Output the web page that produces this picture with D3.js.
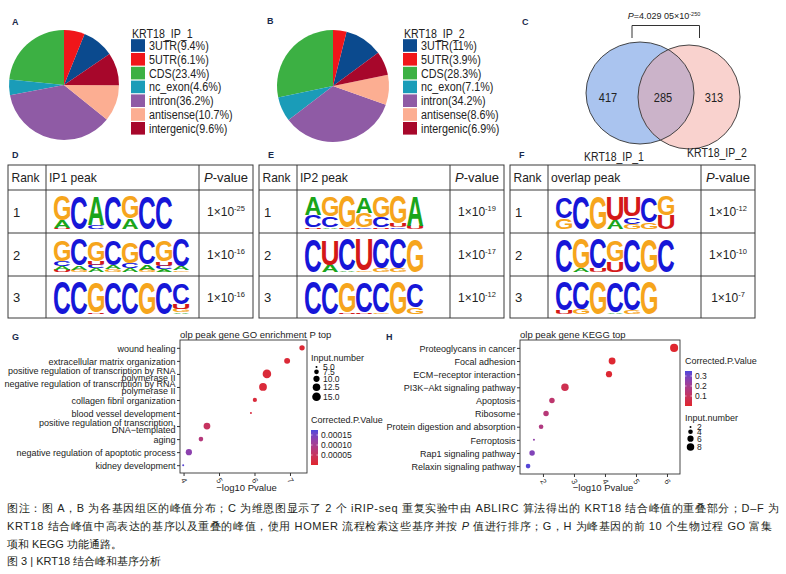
<!DOCTYPE html>
<html>
<head>
<meta charset="utf-8">
<script src="https://cdn.jsdelivr.net/npm/d3@7"></script>
<style>
  body { margin: 0; background: #fff; }
  text { font-family: "Liberation Sans", Arial, sans-serif; }
</style>
</head>
<body>
<div id="chart"></div>
<script>
// ---- data ----
const pieCategories = ["3UTR", "5UTR", "CDS", "nc_exon", "intron", "antisense", "intergenic"]
const pieColors = ["#0b4a8e", "#f0161a", "#3cb043", "#1a9cb8", "#8f5ba5", "#fcae92", "#a7072b"]
// clockwise order of the slices, starting at 12 o'clock
const pieOrder = ["5UTR", "3UTR", "intergenic", "antisense", "intron", "nc_exon", "CDS"]
const ip1Percent = [9.4, 6.1, 23.4, 4.6, 36.2, 10.7, 9.6]
const ip2Percent = [11, 3.9, 28.3, 7.1, 34.2, 8.6, 6.9]
const pieTitles = ["KRT18_IP_1", "KRT18_IP_2"]

const vennSets = ["KRT18_IP_1", "KRT18_IP_2"]
const vennCounts = [417, 285, 313]
const vennP = "4.029 05"
const vennPExp = "-250"

const motifHeaders = ["IP1 peak", "IP2 peak", "overlap peak"]
const motifRanks = [1, 2, 3]
// each column: letters with their height (% of logo height)
const ip1Motifs = [
  "G70A22U4|C95|A80C12|C95|G62A30|C95|C95",
  "G60C15A10U6|C75A12G6|G55U12A10C10|C72A10G8|G60C15A10|C70A15G6|G60U12C10A8|C78A10G5",
  "C95|C95|G90U5|C93|C93|G93|C93|C62U15G10A5"
]
const ip2Motifs = [
  "A50C35U5|G55C30A5|G90U5|A45G40C5|G58C28U5|G78U10C5|A85U10",
  "C95|U70A20|C90A5|U90G5|C85G10|C85G10|G95",
  "C95|C93|G90U5|C90U5|C90G5|G95|C70G20"
]
const olpMotifs = [
  "C60G30|C95|G95|U65A25|U55C20G15|C70G20|G55U40",
  "C95|G85A10|C85U10|G60U30|C95|G95|C95",
  "C85U10|C80G15|G95|C90A5|C85G10|G95"
]
const ip1PExp = [-25, -16, -16]
const ip2PExp = [-19, -17, -12]
const olpPExp = [-12, -10, -7]

const goTitle = "olp peak gene GO enrichment P top"
const goTerms = [
  "wound healing",
  "extracellular matrix organization",
  "positive regulation of transcription by RNA\npolymerase II",
  "negative regulation of transcription by RNA\npolymerase II",
  "collagen fibril organization",
  "blood vessel development",
  "positive regulation of transcription,\nDNA\u2212templated",
  "aging",
  "negative regulation of apoptotic process",
  "kidney development"
]
const goLogP = [7.34, 6.92, 6.35, 6.24, 6.01, 5.9, 4.66, 4.49, 4.15, 3.99]
const goCount = [8.5, 9.5, 15, 13, 7, 5, 11, 7.5, 10, 5]
const goPadj = [0.000008, 0.000010, 0.000012, 0.000013, 0.000015, 0.000018, 0.00005, 0.00008, 0.00013, 0.000168]
const goXTicks = [4, 5, 6, 7]
const goSizeBreaks = [5, 7.5, 10, 12.5, 15]
const goColorBreaks = [0.00005, 0.00010, 0.00015]

const keggTitle = "olp peak gene KEGG top"
const keggTerms = [
  "Proteoglycans in cancer",
  "Focal adhesion",
  "ECM\u2212receptor interaction",
  "PI3K\u2212Akt signaling pathway",
  "Apoptosis",
  "Ribosome",
  "Protein digestion and absorption",
  "Ferroptosis",
  "Rap1 signaling pathway",
  "Relaxin signaling pathway"
]
const keggLogP = [6.23, 4.23, 4.13, 2.71, 2.29, 2.1, 1.94, 1.71, 1.65, 1.52]
const keggCount = [9, 7, 6, 8, 5, 5, 4, 2, 5, 4]
const keggPadj = [0.005, 0.01, 0.012, 0.07, 0.13, 0.15, 0.17, 0.25, 0.28, 0.34]
const keggXTicks = [2, 3, 4, 5, 6]
const keggSizeBreaks = [2, 4, 6, 8]
const keggColorBreaks = [0.1, 0.2, 0.3]

// *...* marks italic text
const captionLines = [
  "图注：图 A，B 为各基因组区的峰值分布；C 为维恩图显示了 2 个 iRIP-seq 重复实验中由 ABLIRC 算法得出的 KRT18 结合峰值的重叠部分；D–F 为",
  "KRT18 结合峰值中高表达的基序以及重叠的峰值，使用 HOMER 流程检索这些基序并按 *P* 值进行排序；G，H 为峰基因的前 10 个生物过程 GO 富集",
  "项和 KEGG 功能通路。",
  "图 3 | KRT18 结合峰和基序分析"
]

// ---- svg ----
const svg = d3.select("#chart")
  .append("svg")
  .attr("width", 786)
  .attr("height", 574)

svg.append("rect").attr("width", 786).attr("height", 574).attr("fill", "#fff")

const ink = "#222"

// narrow a text the way the source figure is squeezed horizontally
function squeeze(t, k) {
  let w = t.node().getComputedTextLength()
  t.attr("textLength", w * k).attr("lengthAdjust", "spacingAndGlyphs")
  return t
}

function panelLabel(t, x, y) {
  svg.append("text")
    .attr("x", x).attr("y", y)
    .attr("font-size", 9).attr("font-weight", "bold")
    .attr("fill", "#1a2a4c")
    .text(t)
}

// ---- pies (A, B) ----
function drawPie(values, title, cx, cy, r, lx) {
  let rows = pieCategories.map((c, i) => ({ cat: c, v: values[i], color: pieColors[i] }))
  let pie = d3.pie()
    .value(d => d.v)
    .sort((a, b) => pieOrder.indexOf(a.cat) - pieOrder.indexOf(b.cat))
  let arc = d3.arc().innerRadius(0).outerRadius(r)

  svg.append("g")
    .attr("transform", `translate(${cx},${cy})`)
    .selectAll("path")
    .data(pie(rows))
    .enter()
    .append("path")
    .attr("d", arc)
    .attr("fill", d => d.data.color)

  // legend
  squeeze(svg.append("text")
    .attr("x", lx + 1).attr("y", 38)
    .attr("font-size", 12.5).attr("fill", ink)
    .text(title), 0.85)
  let lg = svg.append("g")
  rows.forEach((d, i) => {
    let yc = 45.5 + i * 13.8
    lg.append("rect")
      .attr("x", lx).attr("y", yc - 6.3)
      .attr("width", 14).attr("height", 12.6)
      .attr("fill", d.color)
    squeeze(lg.append("text")
      .attr("x", lx + 18).attr("y", yc + 4.5)
      .attr("font-size", 12.5).attr("fill", ink)
      .text(`${d.cat}(${d.v}%)`), 0.86)
  })
}

panelLabel("A", 12, 25)
drawPie(ip1Percent, pieTitles[0], 64, 85, 55, 131)
panelLabel("B", 267, 24)
drawPie(ip2Percent, pieTitles[1], 333, 86, 56, 403)

// ---- venn (C) ----
panelLabel("C", 522, 25)
let blue = { cx: 640, cy: 93, rx: 54, ry: 51 }
let pink = { cx: 689, cy: 97, rx: 51, ry: 52 }

svg.append("defs").append("clipPath").attr("id", "clipBlue")
  .append("ellipse")
  .attr("cx", blue.cx).attr("cy", blue.cy).attr("rx", blue.rx).attr("ry", blue.ry)

svg.append("ellipse")
  .attr("cx", blue.cx).attr("cy", blue.cy).attr("rx", blue.rx).attr("ry", blue.ry)
  .attr("fill", "#aac4ef")
svg.append("ellipse")
  .attr("cx", pink.cx).attr("cy", pink.cy).attr("rx", pink.rx).attr("ry", pink.ry)
  .attr("fill", "#f9d2ce")
svg.append("ellipse")
  .attr("cx", pink.cx).attr("cy", pink.cy).attr("rx", pink.rx).attr("ry", pink.ry)
  .attr("fill", "#cbb3c9")
  .attr("clip-path", "url(#clipBlue)")
;[blue, pink].forEach(e => {
  svg.append("ellipse")
    .attr("cx", e.cx).attr("cy", e.cy).attr("rx", e.rx).attr("ry", e.ry)
    .attr("fill", "none").attr("stroke", "#333").attr("stroke-width", 0.9)
})

let vennX = [608, 663, 714]
vennCounts.forEach((n, i) => {
  squeeze(svg.append("text")
    .attr("x", vennX[i]).attr("y", 101.5)
    .attr("text-anchor", "middle")
    .attr("font-size", 12.5).attr("fill", ink)
    .text(n), 0.88)
})
squeeze(svg.append("text").attr("x", 614).attr("y", 161)
  .attr("text-anchor", "middle").attr("font-size", 12.5).attr("fill", ink)
  .text(vennSets[0]), 0.84)
squeeze(svg.append("text").attr("x", 717).attr("y", 157)
  .attr("text-anchor", "middle").attr("font-size", 12.5).attr("fill", ink)
  .text(vennSets[1]), 0.84)

// bracket with p value
svg.append("path")
  .attr("d", "M632,38V25.5H699.5V38")
  .attr("fill", "none").attr("stroke", "#333").attr("stroke-width", 1)
let pt = svg.append("text")
  .attr("x", 664).attr("y", 19)
  .attr("text-anchor", "middle")
  .attr("font-size", 9).attr("fill", ink)
pt.append("tspan").attr("font-style", "italic").text("P")
pt.append("tspan").text("=" + vennP + "×10")
pt.append("tspan").attr("dy", -3.5).attr("font-size", 5.5).text(vennPExp)

// ---- motif tables (D, E, F) ----
const letterColor = { A: "#1aa51a", C: "#1616d8", G: "#f6a51c", U: "#d41818" }
const logoFont = "bold 100px 'Liberation Sans'"
const ctx = document.createElement("canvas").getContext("2d")
ctx.font = logoFont
const glyphCache = {}
function glyphBox(ch) {
  if (!glyphCache[ch]) {
    let m = ctx.measureText(ch)
    glyphCache[ch] = { l: m.actualBoundingBoxLeft, r: m.actualBoundingBoxRight, a: m.actualBoundingBoxAscent, d: m.actualBoundingBoxDescent }
  }
  return glyphCache[ch]
}

function drawLogo(g, motif, x0, yTop, colW, h) {
  motif.split("|").forEach((col, i) => {
    let stack = [...col.matchAll(/([ACGU])(\d+)/g)].map(m => ({ ch: m[1], v: +m[2] / 100 }))
    stack.sort((a, b) => a.v - b.v)
    let y = yTop + h
    stack.forEach(s => {
      let hh = s.v * h
      let b = glyphBox(s.ch)
      let sx = (colW - 0.8) / (b.l + b.r)
      let sy = hh / (b.a + b.d)
      g.append("text")
        .text(s.ch)
        .attr("font-family", "'Liberation Sans', Arial, sans-serif")
        .attr("font-size", 100)
        .attr("font-weight", "bold")
        .attr("fill", letterColor[s.ch])
        .attr("transform", `translate(${x0 + i * colW},${y - hh}) scale(${sx},${sy}) translate(${b.l},${b.a})`)
      y -= hh
    })
  })
}

const colOff = [0, 38, 191, 245]
const rowY = [165, 190, 233, 276, 318]

function drawTable(x0, header, motifs, exps) {
  let g = svg.append("g")
  let x1 = x0 + colOff[3]
  g.append("rect")
    .attr("x", x0).attr("y", rowY[0])
    .attr("width", colOff[3]).attr("height", rowY[4] - rowY[0])
    .attr("fill", "none").attr("stroke", "#3a3a3a").attr("stroke-width", 1)
  rowY.slice(1, 4).forEach(y => {
    g.append("line").attr("x1", x0).attr("x2", x1).attr("y1", y).attr("y2", y)
      .attr("stroke", "#3a3a3a").attr("stroke-width", 1)
  })
  colOff.slice(1, 3).forEach(c => {
    g.append("line").attr("x1", x0 + c).attr("x2", x0 + c).attr("y1", rowY[0]).attr("y2", rowY[4])
      .attr("stroke", "#3a3a3a").attr("stroke-width", 1)
  })
  let hy = (rowY[0] + rowY[1]) / 2 + 4.5
  squeeze(g.append("text").attr("x", x0 + 3.5).attr("y", hy).attr("font-size", 13).attr("fill", ink).text("Rank"), 0.92)
  squeeze(g.append("text").attr("x", x0 + colOff[1] + 3).attr("y", hy).attr("font-size", 13).attr("fill", ink).text(header), 0.93)
  let ph = g.append("text").attr("x", x0 + (colOff[2] + colOff[3]) / 2).attr("y", hy)
    .attr("text-anchor", "middle").attr("font-size", 13).attr("fill", ink)
  ph.append("tspan").attr("font-style", "italic").text("P")
  ph.append("tspan").text("-value")

  motifRanks.forEach((rk, i) => {
    let top = rowY[i + 1], bot = rowY[i + 2]
    let mid = (top + bot) / 2
    g.append("text").attr("x", x0 + 5).attr("y", mid + 5).attr("font-size", 13).attr("fill", ink).text(rk)
    drawLogo(g, motifs[i], x0 + colOff[1] + 8, top + 4, 17, bot - top - 8)
    let t = g.append("text").attr("x", x0 + (colOff[2] + colOff[3]) / 2).attr("y", mid + 4.5)
      .attr("text-anchor", "middle").attr("font-size", 12).attr("fill", ink)
    t.append("tspan").text("1×10")
    t.append("tspan").attr("dy", -5).attr("font-size", 7.5).text(exps[i])
  })
}

panelLabel("D", 12, 158)
drawTable(8, motifHeaders[0], ip1Motifs, ip1PExp)
panelLabel("E", 268, 158)
drawTable(259, motifHeaders[1], ip2Motifs, ip2PExp)
panelLabel("F", 519, 158)
drawTable(510, motifHeaders[2], olpMotifs, olpPExp)

// ---- dot plots (G, H) ----
const colorLow = "#e0262c", colorHigh = "#4a48dc"

function drawDotPlot(o) {
  let x = d3.scaleLinear().domain(o.xDomain).range([o.left, o.right])
  let y = d3.scalePoint().domain(o.terms).range([o.top, o.bottom]).padding(0.6)
  let area = d3.scaleLinear().domain(o.sizeDomain).range(o.areaRange)
  let rad = v => Math.sqrt(area(v))
  let colorT = d3.scaleLinear().domain(o.pDomain).range([0, 1])
  let color = v => d3.interpolateLab(colorLow, colorHigh)(colorT(v))

  svg.append("text")
    .attr("x", o.left).attr("y", 337.5)
    .attr("font-size", 9.5).attr("fill", ink)
    .text(o.title)

  // y axis
  let gy = svg.append("g")
    .attr("transform", `translate(${o.left},0)`)
    .call(d3.axisLeft(y).tickSize(3).tickSizeOuter(0))
  gy.select(".domain").remove()
  gy.selectAll("line").attr("stroke", "#333")
  gy.selectAll("text").each(function (d) {
    let lines = d.split("\n")
    let t = d3.select(this).text(null)
      .attr("font-size", 9).attr("fill", ink)
      .attr("font-family", "'Liberation Sans', Arial, sans-serif")
      .attr("x", -4.5).attr("dy", null)
    let lh = 7.2
    let y0 = -(lines.length - 1) * lh / 2 + 3.2
    lines.forEach((ln, k) => {
      t.append("tspan").attr("x", -4.5).attr("y", y0 + k * lh).text(ln)
    })
  })

  // x axis
  let gx = svg.append("g")
    .attr("transform", `translate(0,${o.boxBottom})`)
    .call(d3.axisBottom(x).tickValues(o.xTicks).tickFormat(d3.format("d")).tickSize(3).tickSizeOuter(0))
  gx.select(".domain").remove()
  gx.selectAll("line").attr("stroke", "#333")
  gx.selectAll("text")
    .attr("font-size", 8).attr("fill", "#333")
    .attr("font-family", "'Liberation Sans', Arial, sans-serif")
    .attr("y", 0).attr("dy", "0.35em")
    .attr("text-anchor", "middle")
    .attr("transform", "translate(0,7.5) rotate(60)")

  svg.append("text")
    .attr("x", (o.left + o.right) / 2 + 3).attr("y", 491)
    .attr("text-anchor", "middle")
    .attr("font-size", 9.5).attr("fill", ink)
    .text("\u2212log10 Pvalue")

  // points
  svg.append("g")
    .selectAll("circle")
    .data(o.terms.map((t, i) => ({ t: t, x: o.x[i], n: o.n[i], p: o.p[i] })))
    .enter()
    .append("circle")
    .attr("cx", d => x(d.x))
    .attr("cy", d => y(d.t))
    .attr("r", d => rad(d.n))
    .attr("fill", d => color(d.p))

  // box
  svg.append("rect")
    .attr("x", o.left).attr("y", o.boxTop)
    .attr("width", o.right - o.left).attr("height", o.boxBottom - o.boxTop)
    .attr("fill", "none").attr("stroke", "#333").attr("stroke-width", 0.9)

  // size legend
  let sl = o.sizeLegend
  svg.append("text").attr("x", sl.x).attr("y", sl.y)
    .attr("font-size", 9).attr("fill", ink).text("Input.number")
  let yy = sl.y + 5
  o.sizeBreaks.forEach(v => {
    let r = rad(v)
    yy += r
    svg.append("circle").attr("cx", sl.x + 5.5).attr("cy", yy).attr("r", r).attr("fill", "#000")
    svg.append("text").attr("x", sl.x + 12).attr("y", yy + 3)
      .attr("font-size", 8.5).attr("fill", ink).text(o.sizeFormat(v))
    yy += r + 1.5
  })

  // colour legend
  let cl = o.colorLegend
  svg.append("text").attr("x", cl.x).attr("y", cl.y)
    .attr("font-size", 9).attr("fill", ink).text("Corrected.P.Value")
  let by = d3.scaleLinear().domain(o.pDomain).range([cl.y + 42, cl.y + 7])
  let gid = "grad" + o.id
  let grad = svg.append("defs").append("linearGradient").attr("id", gid)
    .attr("x1", 0).attr("x2", 0).attr("y1", 1).attr("y2", 0)
  d3.range(0, 1.01, 0.1).forEach(t => {
    grad.append("stop").attr("offset", t).attr("stop-color", d3.interpolateLab(colorLow, colorHigh)(t))
  })
  svg.append("rect").attr("x", cl.x).attr("y", cl.y + 7)
    .attr("width", 7).attr("height", 35).attr("fill", `url(#${gid})`)
  o.colorBreaks.forEach(v => {
    svg.append("line").attr("x1", cl.x).attr("x2", cl.x + 1.5).attr("y1", by(v)).attr("y2", by(v))
      .attr("stroke", "#fff").attr("stroke-width", 0.6)
    svg.append("line").attr("x1", cl.x + 5.5).attr("x2", cl.x + 7).attr("y1", by(v)).attr("y2", by(v))
      .attr("stroke", "#fff").attr("stroke-width", 0.6)
    svg.append("text").attr("x", cl.x + 10).attr("y", by(v) + 3)
      .attr("font-size", 8.5).attr("fill", ink).text(o.colorFormat(v))
  })
}

panelLabel("G", 12, 340)
drawDotPlot({
  id: "G", title: goTitle, terms: goTerms,
  x: goLogP, n: goCount, p: goPadj,
  xDomain: [3.9, 7.48], xTicks: goXTicks,
  left: 180, right: 307, top: 340, bottom: 473, boxTop: 340, boxBottom: 473,
  sizeDomain: [5, 15], areaRange: [1, 18.5], sizeBreaks: goSizeBreaks,
  sizeFormat: d3.format(".1f"),
  pDomain: [0, 0.000175], colorBreaks: goColorBreaks,
  colorFormat: d3.format(".5f"),
  sizeLegend: { x: 311, y: 361 },
  colorLegend: { x: 311, y: 423 }
})

panelLabel("H", 386, 340)
drawDotPlot({
  id: "H", title: keggTitle, terms: keggTerms,
  x: keggLogP, n: keggCount, p: keggPadj,
  xDomain: [1.26, 6.42], xTicks: keggXTicks,
  left: 520, right: 680, top: 340, bottom: 474, boxTop: 340, boxBottom: 474,
  sizeDomain: [2, 8], areaRange: [1, 14], sizeBreaks: keggSizeBreaks,
  sizeFormat: d3.format("d"),
  pDomain: [0, 0.35], colorBreaks: keggColorBreaks,
  colorFormat: d3.format(".1f"),
  sizeLegend: { x: 685, y: 421 },
  colorLegend: { x: 685, y: 364 }
})

// ---- caption ----
let capY = [512, 530, 548, 565]
let capLen = [772, 765, null, null]
captionLines.forEach((line, i) => {
  let t = svg.append("text")
    .attr("x", 7).attr("y", capY[i])
    .attr("font-family", "'Noto Sans CJK SC', sans-serif")
    .attr("font-size", 11).attr("fill", "#231f20")
  if (capLen[i]) t.attr("textLength", capLen[i]).attr("lengthAdjust", "spacing")
  line.split("*").forEach((part, k) => {
    t.append("tspan").attr("font-style", k % 2 ? "italic" : null).text(part)
  })
})
</script>
</body>
</html>
